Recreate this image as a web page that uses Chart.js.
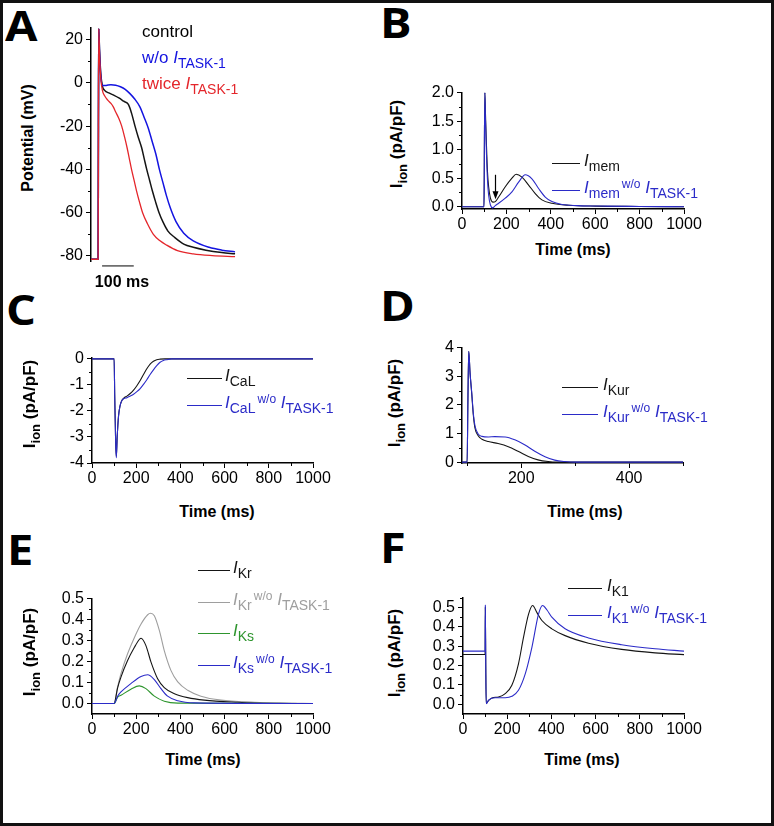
<!DOCTYPE html>
<html>
<head>
<meta charset="utf-8">
<script src="https://cdn.jsdelivr.net/npm/chart.js@4.4.0/dist/chart.umd.min.js"></script>
<style>
	html, body { margin: 0; padding: 0; background: #fff; }
	#fig { position: relative; width: 774px; height: 826px; overflow: hidden; font-family: 'Liberation Sans', Arial, sans-serif; }
	#frame { position: absolute; left: 0; top: 0; width: 774px; height: 826px; box-sizing: border-box; border: 3px solid #111; pointer-events: none; }
	canvas { position: absolute; }
	.t { position: absolute; white-space: nowrap; font-size: 16px; line-height: 16px; }
	.lg { font-size: 17px; }
	.b { font-weight: bold; }
	.big { font-size: 17px; }
	.c { transform: translate(-50%, -50%); }
	.r { transform: translate(-50%, -50%) rotate(-90deg); }
	.letter { position: absolute; font-family: 'Open Sans', sans-serif; font-weight: 700; font-size: 42px; line-height: 42px; transform-origin: 0 0; transform: scaleX(1.12); }
	.ln { position: absolute; height: 1px; }
	sub { font-size: 14px; vertical-align: -5px; line-height: 0; }
	.b sub { font-size: 13px; }
	sup { font-size: 12px; vertical-align: 5px; line-height: 0; margin-left: 2px; }
</style>
</head>
<body>
<div id="fig"></div>
<script>
// ---- panel A: action potentials (mV vs ms)
const aCtrlT = [77, 99.5, 100.5, 101.5, 104, 108, 113, 120, 135, 150, 165, 180, 195, 205, 216, 226, 237, 245, 253, 262, 271, 281, 292, 305, 320, 342, 370, 400, 440, 490, 532];
const aCtrlV = [-81.5, -81.5, -20, 25, 15, 4, -1.5, -3.5, -4.8, -5.8, -7, -8.5, -10, -14, -20, -25, -30, -35, -40, -45, -50, -55, -60, -64.5, -68.5, -71.5, -74.5, -76, -77.3, -78.4, -79];
const aNoTaskT = [77, 99.5, 100.5, 101.5, 104, 108, 112, 125, 140, 155, 170, 185, 200, 215, 231, 245, 258, 270, 282, 293, 304, 315, 328, 345, 370, 400, 450, 490, 532];
const aNoTaskV = [-81.5, -81.5, -20, 25, 14, 3, -1.3, -1.2, -0.9, -1.1, -1.8, -3, -5, -7.5, -11, -16, -21, -27, -33, -40, -46, -52, -58, -64, -69.5, -73, -76, -77.3, -78.1];
const aTwiceT = [77, 99.5, 100.5, 101.5, 104, 108, 113, 120, 130, 140, 147, 155, 165, 174, 183, 191, 198, 205, 213, 221, 230, 240, 255, 274, 295, 316, 350, 400, 460, 532];
const aTwiceV = [-81.5, -81.5, -20, 25, 13, 2, -3.5, -6, -8, -9.5, -11, -13.5, -16.5, -20, -25, -30, -35, -40, -45, -50, -55, -60, -65, -70, -73, -75, -77.5, -79, -79.8, -80.3];
const aYTicks = [-80, -60, -40, -20, 0, 20];
const aYMinor = [-70, -50, -30, -10, 10];

// ---- panel B: I_mem
const bMemT = [0, 99, 100, 101, 103, 106, 110, 115, 120, 128, 140, 150, 165, 195, 225, 244, 270, 300, 330, 360, 405, 480, 600, 800, 1000];
const bMemV = [0, 0, 0.4, 1.2, 2.0, 1.6, 1.1, 0.6, 0.35, 0.15, 0.08, 0.09, 0.17, 0.35, 0.5, 0.57, 0.52, 0.38, 0.23, 0.12, 0.06, 0.025, 0.01, 0.005, 0];
const bMemNoT = [0, 99, 100, 101, 103, 106, 110, 115, 120, 128, 138, 150, 165, 195, 225, 255, 285, 315, 345, 375, 405, 450, 520, 650, 800, 1000];
const bMemNoV = [0, 0, 0.4, 1.2, 2.0, 1.5, 0.95, 0.45, 0.2, 0.03, -0.02, 0.02, 0.06, 0.15, 0.26, 0.43, 0.56, 0.49, 0.32, 0.17, 0.09, 0.04, 0.02, 0.01, 0.005, 0];
const bYTicks = [0, 0.5, 1.0, 1.5, 2.0];
const bYMinor = [0.25, 0.75, 1.25, 1.75];

// ---- panel C: I_CaL
const cCaLT = [0, 100, 103, 107, 110, 114, 120, 127, 135, 145, 158, 173, 188, 203, 218, 233, 248, 263, 278, 293, 308, 330, 1000];
const cCaLV = [0, 0, -1.5, -3.2, -3.75, -3.0, -2.2, -1.8, -1.6, -1.5, -1.43, -1.33, -1.2, -1.03, -0.83, -0.6, -0.38, -0.2, -0.09, -0.03, -0.01, 0, 0];
const cCaLNoT = [0, 100, 103, 107, 110, 114, 120, 127, 135, 145, 158, 173, 188, 203, 218, 233, 248, 263, 278, 293, 308, 323, 338, 360, 1000];
const cCaLNoV = [0, 0, -1.5, -3.2, -3.8, -3.0, -2.2, -1.8, -1.6, -1.52, -1.49, -1.43, -1.36, -1.26, -1.14, -0.98, -0.8, -0.6, -0.42, -0.26, -0.13, -0.06, -0.03, 0, 0];
const cYTicks = [-4, -3, -2, -1, 0];
const cYMinor = [-3.5, -2.5, -1.5, -0.5];

// ---- panel D: I_Kur
const dKurT = [90, 99.5, 101, 102.5, 105, 108, 111, 114, 120, 127, 139, 157, 176, 195, 213, 231, 250, 265, 500];
const dKurV = [0, 0, 2.2, 3.87, 3.1, 2.4, 1.65, 1.2, 0.92, 0.8, 0.72, 0.65, 0.54, 0.37, 0.2, 0.08, 0.02, 0, 0];
const dKurNoT = [90, 99.5, 101, 102.5, 105, 108, 111, 114, 120, 127, 139, 151, 170, 188, 207, 225, 244, 262, 281, 300, 500];
const dKurNoV = [0, 0, 2.2, 3.87, 3.1, 2.45, 1.7, 1.28, 0.98, 0.9, 0.88, 0.89, 0.88, 0.78, 0.6, 0.38, 0.19, 0.07, 0.02, 0, 0];
const dXTicks = [200, 400];
const dXMinor = [100, 300, 500];
const dYTicks = [0, 1, 2, 3, 4];
const dYMinor = [0.5, 1.5, 2.5, 3.5];

// ---- panel E: I_Kr, I_Ks
const eKrT = [0, 100, 116, 131, 161, 192, 214, 222, 244, 267, 297, 327, 373, 433, 508, 659, 800, 1000];
const eKrV = [0, 0, 0.075, 0.126, 0.205, 0.268, 0.305, 0.311, 0.276, 0.197, 0.118, 0.076, 0.047, 0.028, 0.016, 0.006, 0.001, 0];
const eKrNoT = [0, 100, 116, 131, 161, 192, 222, 252, 264, 282, 305, 327, 357, 388, 433, 493, 584, 735, 850, 1000];
const eKrNoV = [0, 0, 0.08, 0.142, 0.237, 0.315, 0.379, 0.423, 0.43, 0.418, 0.347, 0.252, 0.158, 0.103, 0.063, 0.035, 0.016, 0.006, 0.002, 0];
const eKsT = [0, 100, 116, 131, 176, 214, 244, 282, 327, 388, 1000];
const eKsV = [0, 0, 0.03, 0.039, 0.068, 0.084, 0.071, 0.035, 0.011, 0.002, 0];
const eKsNoT = [0, 100, 116, 131, 176, 222, 252, 282, 312, 342, 388, 463, 1000];
const eKsNoV = [0, 0, 0.035, 0.055, 0.095, 0.129, 0.137, 0.114, 0.071, 0.035, 0.013, 0.003, 0];
const eYTicks = [0, 0.1, 0.2, 0.3, 0.4, 0.5];
const eYMinor = [0.05, 0.15, 0.25, 0.35, 0.45];

// ---- panel F: I_K1
const fK1T = [0, 100, 101, 103, 105, 116, 131, 161, 191, 221, 251, 274, 297, 315, 334, 357, 402, 462, 568, 718, 869, 1000];
const fK1V = [0.257, 0.257, 0.5, 0.2, 0.005, 0.02, 0.033, 0.038, 0.055, 0.098, 0.209, 0.346, 0.466, 0.509, 0.474, 0.432, 0.389, 0.354, 0.315, 0.283, 0.265, 0.256];
const fK1NoT = [0, 100, 101, 103, 105, 116, 146, 191, 221, 251, 282, 312, 342, 360, 380, 402, 462, 568, 718, 869, 1000];
const fK1NoV = [0.274, 0.274, 0.51, 0.2, 0.003, 0.022, 0.034, 0.034, 0.041, 0.072, 0.158, 0.295, 0.466, 0.509, 0.486, 0.449, 0.389, 0.342, 0.307, 0.286, 0.274];
const fYTicks = [0, 0.1, 0.2, 0.3, 0.4, 0.5];
const fYMinor = [0.05, 0.15, 0.25, 0.35, 0.45, 0.55];

// shared time axis ticks
const timeTicks = [0, 200, 400, 600, 800, 1000];
const timeMinor = [100, 300, 500, 700, 900];

const BLACK = '#151515';
const BLUE = '#2b2bc8';
const BLUE_A = '#1414e0';
const RED = '#e4262b';
const GREEN = '#2e952e';
const GRAY = '#9e9e9e';
const FONT = "'Liberation Sans', Arial, sans-serif";

const fig = document.getElementById('fig');
const pts = (ts, vs) => ts.map((t, i) => ({ x: t, y: vs[i] }));

const minorTicks = {
	id: 'minorTicks',
	afterDraw(chart, args, opts) {
		const ctx = chart.ctx;
		const xs = chart.scales.x, ys = chart.scales.y;
		ctx.save();
		ctx.strokeStyle = '#000';
		ctx.lineWidth = 1;
		if (xs.options.display) {
			(opts.x || []).forEach(v => {
				const p = Math.round(xs.getPixelForValue(v)) + 0.5;
				ctx.beginPath(); ctx.moveTo(p, xs.top); ctx.lineTo(p, xs.top + 3); ctx.stroke();
			});
		}
		(opts.y || []).forEach(v => {
			const p = Math.round(ys.getPixelForValue(v)) + 0.5;
			ctx.beginPath(); ctx.moveTo(ys.right - 3, p); ctx.lineTo(ys.right, p); ctx.stroke();
		});
		ctx.restore();
	}
};

// down arrow marking the I_mem notch in panel B
const notchArrow = {
	id: 'notchArrow',
	afterDatasetsDraw(chart) {
		const ctx = chart.ctx;
		const x = Math.round(chart.scales.x.getPixelForValue(147)) + 0.5;
		const y1 = chart.scales.y.getPixelForValue(0.56);
		const y2 = chart.scales.y.getPixelForValue(0.13);
		ctx.save();
		ctx.strokeStyle = '#000'; ctx.fillStyle = '#000'; ctx.lineWidth = 1.2;
		ctx.beginPath(); ctx.moveTo(x, y1); ctx.lineTo(x, y2 - 6); ctx.stroke();
		ctx.beginPath(); ctx.moveTo(x - 3, y2 - 8); ctx.lineTo(x + 3, y2 - 8); ctx.lineTo(x, y2); ctx.closePath(); ctx.fill();
		ctx.restore();
	}
};

// 100 ms scale bar under panel A
const scaleBar = {
	id: 'scaleBar',
	afterDraw(chart) {
		const ctx = chart.ctx;
		const xs = chart.scales.x;
		const x1 = xs.getPixelForValue(112), x2 = xs.getPixelForValue(212);
		const y = chart.chartArea.bottom + 4.5;
		ctx.save();
		ctx.strokeStyle = '#555'; ctx.lineWidth = 1.5;
		ctx.beginPath(); ctx.moveTo(x1, y); ctx.lineTo(x2, y); ctx.stroke();
		ctx.restore();
	}
};

function ds(ts, vs, color, width, order) {
	return { data: pts(ts, vs), borderColor: color, borderWidth: width, pointRadius: 0, fill: false,
		cubicInterpolationMode: 'monotone', order };
}

function axis(min, max, ticks, fmt, isY, show) {
	return {
		type: 'linear', min, max, display: show,
		afterBuildTicks: s => { s.ticks = ticks.map(v => ({ value: v })); },
		afterFit: s => {
			if (!show) return;
			if (isY) s.width = 50; else s.height = 30;
		},
		grid: { drawOnChartArea: false, drawTicks: true, tickLength: 5, tickColor: '#000', tickWidth: 1 },
		border: { display: true, color: '#000', width: 1.5 },
		ticks: { color: '#000', font: { family: FONT, size: 16 }, padding: isY ? 3 : 1, autoSkip: false, maxRotation: 0,
			callback: v => fmt(v) }
	};
}

function panel(box, xr, yr, xT, xM, yT, yM, yFmt, datasets, extra, showX = true) {
	const padT = 12, padR = 25, yW = 50, xH = showX ? 30 : 12;
	const c = document.createElement('canvas');
	const w = box.r - box.l + yW + padR, h = box.b - box.t + padT + xH;
	c.width = w; c.height = h;
	c.style.left = (box.l - yW) + 'px'; c.style.top = (box.t - padT) + 'px';
	c.style.width = w + 'px'; c.style.height = h + 'px';
	fig.appendChild(c);
	new Chart(c.getContext('2d'), {
		type: 'line',
		data: { datasets },
		options: {
			responsive: false, animation: false, devicePixelRatio: 1,
			layout: { padding: { left: 0, top: padT, right: padR, bottom: showX ? 0 : 12 } },
			plugins: { legend: { display: false }, tooltip: { enabled: false }, minorTicks: { x: xM, y: yM } },
			scales: {
				x: axis(xr[0], xr[1], xT, v => String(v), false, showX),
				y: axis(yr[0], yr[1], yT, yFmt, true, true)
			}
		},
		plugins: [minorTicks].concat(extra)
	});
}

function txt(x, y, html, cls, color) {
	const d = document.createElement('div');
	d.className = 't ' + (cls || '');
	d.style.left = x + 'px'; d.style.top = y + 'px';
	if (color) d.style.color = color;
	d.innerHTML = html;
	fig.appendChild(d);
	return d;
}

function legendRow(x1, x2, y, tx, html, color) {
	const l = document.createElement('div');
	l.className = 'ln';
	l.style.left = x1 + 'px'; l.style.top = y + 'px'; l.style.width = (x2 - x1) + 'px'; l.style.background = color;
	fig.appendChild(l);
	txt(tx, y - 10, html, 'lg', color);
}

function letter(x, y, s) {
	const d = document.createElement('div');
	d.className = 'letter'; d.style.left = x + 'px'; d.style.top = y + 'px';
	d.textContent = s;
	fig.appendChild(d);
}

const f0 = v => String(v);
const f1 = v => v.toFixed(1);
const ionTitle = 'I<sub>ion</sub> (pA/pF)';
const task = '<i>I</i><sub>TASK-1</sub>';

// A
panel({ l: 91, t: 27, r: 236, b: 262 }, [77, 535], [-82.5, 25.5], [], [], aYTicks, aYMinor, f0, [
	ds(aTwiceT, aTwiceV, RED, 1.3, 0),
	ds(aNoTaskT, aNoTaskV, BLUE_A, 1.5, 1),
	ds(aCtrlT, aCtrlV, BLACK, 1.5, 2)
], [scaleBar], false);
// B
panel({ l: 462, t: 92, r: 684, b: 209 }, [0, 1000], [-0.04, 2.0], timeTicks, timeMinor, bYTicks, bYMinor, f1, [
	ds(bMemNoT, bMemNoV, BLUE, 1.1, 0),
	ds(bMemT, bMemV, BLACK, 1.1, 1)
], [notchArrow]);
// C
panel({ l: 92, t: 357, r: 313, b: 463 }, [0, 1000], [-4, 0.05], timeTicks, timeMinor, cYTicks, cYMinor, f0, [
	ds(cCaLNoT, cCaLNoV, BLUE, 1.1, 0),
	ds(cCaLT, cCaLV, BLACK, 1.1, 1)
], []);
// D
panel({ l: 462, t: 347, r: 683, b: 463 }, [90, 500], [-0.03, 4], dXTicks, dXMinor, dYTicks, dYMinor, f0, [
	ds(dKurNoT, dKurNoV, BLUE, 1.1, 0),
	ds(dKurT, dKurV, BLACK, 1.1, 1)
], []);
// E
panel({ l: 92, t: 598, r: 313, b: 714 }, [0, 1000], [-0.05, 0.5], timeTicks, timeMinor, eYTicks, eYMinor, f1, [
	ds(eKsNoT, eKsNoV, BLUE, 1.1, 0),
	ds(eKsT, eKsV, GREEN, 1.1, 1),
	ds(eKrT, eKrV, BLACK, 1.1, 2),
	ds(eKrNoT, eKrNoV, GRAY, 1.1, 3)
], []);
// F
panel({ l: 463, t: 597, r: 684, b: 714 }, [0, 1000], [-0.05, 0.55], timeTicks, timeMinor, fYTicks, fYMinor, f1, [
	ds(fK1NoT, fK1NoV, BLUE, 1.1, 0),
	ds(fK1T, fK1V, BLACK, 1.1, 1)
], []);

// panel letters
letter(5, 4, 'A'); letter(380, 1, 'B'); letter(6, 288, 'C');
letter(380, 284, 'D'); letter(7, 528, 'E'); letter(380, 526, 'F');

// axis titles
txt(28, 138, 'Potential (mV)', 'b r');
txt(397, 144, ionTitle, 'b r big');
txt(30, 404, ionTitle, 'b r big');
txt(395, 403, ionTitle, 'b r big');
txt(30, 652, ionTitle, 'b r big');
txt(395, 653, ionTitle, 'b r big');
txt(573, 250, 'Time (ms)', 'b c');
txt(217, 512, 'Time (ms)', 'b c');
txt(585, 512, 'Time (ms)', 'b c');
txt(203, 760, 'Time (ms)', 'b c');
txt(582, 760, 'Time (ms)', 'b c');
txt(122, 282, '100 ms', 'b c');

// legends
txt(142, 24, 'control', 'lg', '#000');
txt(142, 50, 'w/o ' + task, 'lg', BLUE_A);
txt(142, 76, 'twice ' + task, 'lg', RED);

legendRow(552, 580, 163, 584, '<i>I</i><sub>mem</sub>', BLACK);
legendRow(552, 580, 190, 584, '<i>I</i><sub>mem</sub><sup>w/o</sup> ' + task, BLUE);
legendRow(187, 222, 378, 225, '<i>I</i><sub>CaL</sub>', BLACK);
legendRow(187, 222, 405, 225, '<i>I</i><sub>CaL</sub><sup>w/o</sup> ' + task, BLUE);
legendRow(562, 598, 387, 603, '<i>I</i><sub>Kur</sub>', BLACK);
legendRow(562, 598, 414, 603, '<i>I</i><sub>Kur</sub><sup>w/o</sup> ' + task, BLUE);
legendRow(198, 230, 570, 233, '<i>I</i><sub>Kr</sub>', BLACK);
legendRow(198, 230, 602, 233, '<i>I</i><sub>Kr</sub><sup>w/o</sup> ' + task, GRAY);
legendRow(198, 230, 633, 233, '<i>I</i><sub>Ks</sub>', GREEN);
legendRow(198, 230, 665, 233, '<i>I</i><sub>Ks</sub><sup>w/o</sup> ' + task, BLUE);
legendRow(568, 602, 588, 607, '<i>I</i><sub>K1</sub>', BLACK);
legendRow(568, 602, 615, 607, '<i>I</i><sub>K1</sub><sup>w/o</sup> ' + task, BLUE);

const frame = document.createElement('div');
frame.id = 'frame';
fig.appendChild(frame);
</script>
</body>
</html>
